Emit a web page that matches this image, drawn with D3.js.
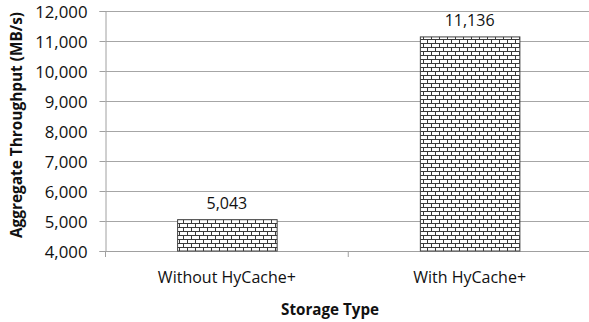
<!DOCTYPE html>
<html>
<head>
<meta charset="utf-8">
<script src="https://cdn.jsdelivr.net/npm/d3@7"></script>
<style>
  html, body { margin: 0; padding: 0; background: #fff; }
  svg { display: block; font-family: "Open Sans", Lato, sans-serif; }
</style>
</head>
<body>
<svg id="chart" width="589" height="322"></svg>
<script>
// Aggregate throughput by storage type
const categories = ["Without HyCache+", "With HyCache+"];
const throughput = [5043, 11136];
const yTicks = [4000, 5000, 6000, 7000, 8000, 9000, 10000, 11000, 12000];
const yTitle = "Aggregate Throughput (MB/s)";
const xTitle = "Storage Type";

const svg = d3.select("#chart");
const margin = { left: 105.5, right: -2, top: 11, bottom: 71 };
const W = 589, H = 322;
const x0 = margin.left, x1 = W - margin.right;
const yTop = margin.top, yBot = H - margin.bottom;
const fs = 16;

const x = d3.scaleBand().domain(categories).range([x0, x1]).paddingInner(0.59).paddingOuter(0.295);
const y = d3.scaleLinear().domain([4000, 12000]).range([yBot, yTop]);

// brick fill pattern
const defs = svg.append("defs");
const pat = defs.append("pattern")
  .attr("id", "brick").attr("patternUnits", "userSpaceOnUse")
  .attr("width", 8).attr("height", 8);
pat.append("rect").attr("width", 8).attr("height", 8).attr("fill", "#fff");
pat.append("path")
  .attr("d", "M0,3.5H8M0,7.5H8M3.5,0V3.5M7.5,4V8")
  .attr("stroke", "#3a3a3a").attr("stroke-width", 1).attr("fill", "none");

// gridlines
svg.append("g").selectAll("line").data(yTicks.filter(d => d !== 4000)).join("line")
  .attr("x1", x0).attr("x2", W)
  .attr("y1", d => Math.round(y(d)) + 0.5).attr("y2", d => Math.round(y(d)) + 0.5)
  .attr("stroke", "#a6a6a6").attr("stroke-width", 1);

// y axis
const yAxis = svg.append("g").attr("transform", `translate(${x0},0)`)
  .call(d3.axisLeft(y).tickValues(yTicks).tickSize(6).tickPadding(12)
    .tickFormat(d3.format(",")));
yAxis.select(".domain").attr("stroke", "#a0a0a0");
yAxis.selectAll(".tick line").attr("stroke", "#a0a0a0");
yAxis.selectAll(".tick text").attr("fill", "#111").attr("font-size", 16.8)
  .attr("font-family", "'Open Sans', sans-serif")
  .attr("dy", "0.36em");

// x axis baseline with category separators
svg.append("line").attr("x1", x0).attr("x2", W)
  .attr("y1", yBot + 0.5).attr("y2", yBot + 0.5).attr("stroke", "#a0a0a0");
const step = x.step();
const sepX = [x0, x0 + step];
svg.append("g").selectAll("line").data(sepX).join("line")
  .attr("x1", d => d).attr("x2", d => d)
  .attr("y1", yBot).attr("y2", yBot + 6).attr("stroke", "#a0a0a0");

// bars
svg.append("g").selectAll("rect").data(categories).join("rect")
  .attr("x", d => x(d) + 0.5)
  .attr("y", (d, i) => y(throughput[i]))
  .attr("width", x.bandwidth())
  .attr("height", (d, i) => yBot - y(throughput[i]))
  .attr("fill", "url(#brick)")
  .attr("stroke", "#404040").attr("stroke-width", 1);

// value labels
svg.append("g").selectAll("text").data(categories).join("text")
  .attr("x", d => x(d) + x.bandwidth() / 2)
  .attr("y", (d, i) => y(throughput[i]) - 11)
  .attr("text-anchor", "middle").attr("font-size", fs).attr("fill", "#111")
  .text((d, i) => d3.format(",")(throughput[i]));

// category labels
svg.append("g").selectAll("text").data(categories).join("text")
  .attr("x", d => x(d) + x.bandwidth() / 2)
  .attr("y", yBot + 32)
  .attr("text-anchor", "middle").attr("font-size", fs).attr("fill", "#111")
  .text(d => d);

// axis titles
svg.append("text").attr("x", 330).attr("y", 315)
  .attr("text-anchor", "middle").attr("font-size", 15.2).attr("font-weight", "bold")
  .attr("fill", "#111").text(xTitle);
svg.append("text")
  .attr("transform", `translate(22,125) rotate(-90)`)
  .attr("text-anchor", "middle").attr("font-size", 15.4).attr("font-weight", "bold")
  .attr("fill", "#111").text(yTitle);
</script>
</body>
</html>
